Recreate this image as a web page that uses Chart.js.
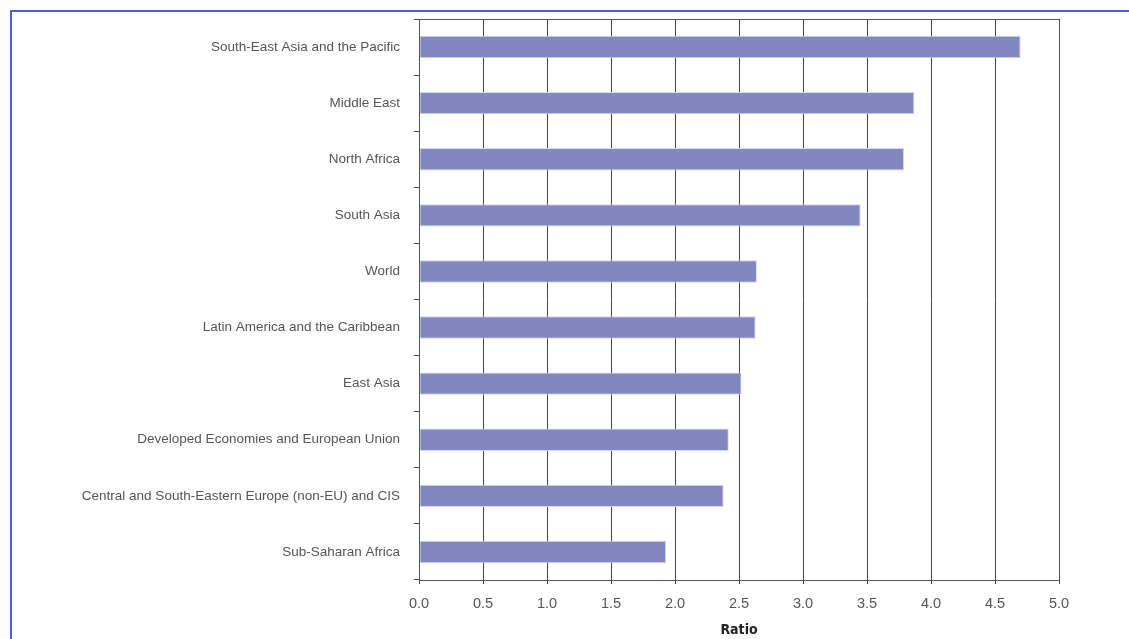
<!DOCTYPE html>
<html>
<head>
<meta charset="utf-8">
<script src="https://cdn.jsdelivr.net/npm/chart.js@4/dist/chart.umd.min.js"></script>
<style>
  html, body { margin: 0; padding: 0; background: #fff; }
  #marco {
    position: absolute; left: 10px; top: 10px; width: 1119px; height: 629px;
    border-top: 2px solid #4a63c4; border-left: 2px solid #4a63c4;
  }
  #lienzo { position: absolute; left: 0; top: 0; width: 1129px; height: 639px; }
</style>
</head>
<body>
<div id="marco"></div>
<div id="lienzo"><canvas id="grafico"></canvas></div>
<script>
// datos
const regiones = [
  "South-East Asia and the Pacific",
  "Middle East",
  "North Africa",
  "South Asia",
  "World",
  "Latin America and the Caribbean",
  "East Asia",
  "Developed Economies and European Union",
  "Central and South-Eastern Europe (non-EU) and CIS",
  "Sub-Saharan Africa"
];
const ratios = [4.70, 3.87, 3.79, 3.45, 2.64, 2.63, 2.52, 2.42, 2.38, 1.93];
const ejeMin = 0;
const ejeMax = 5;
const paso = 0.5;
const tituloEje = "Ratio";

// marco del area de datos (arriba y derecha)
const marcoPlot = {
  id: 'marcoPlot',
  afterDatasetsDraw(chart) {
    const a = chart.chartArea;
    const ctx = chart.ctx;
    ctx.save();
    ctx.strokeStyle = '#555';
    ctx.lineWidth = 1;
    ctx.strokeRect(a.left + 0.5, a.top + 0.5, a.right - a.left, a.bottom - a.top);
    ctx.restore();
  }
};

const ctx = document.getElementById('grafico').getContext('2d');
new Chart(ctx, {
  type: 'bar',
  data: {
    labels: regiones,
    datasets: [{
      data: ratios,
      backgroundColor: '#8387bf',
      borderColor: '#d6d8ee',
      borderWidth: 1,
      borderSkipped: false,
      barPercentage: 0.4,
      categoryPercentage: 1
    }]
  },
  options: {
    indexAxis: 'y',
    responsive: true,
    maintainAspectRatio: false,
    animation: false,
    layout: { padding: { top: 19, right: 70, left: 0, bottom: 0 } },
    plugins: { legend: { display: false }, tooltip: { enabled: false } },
    scales: {
      x: {
        min: ejeMin,
        max: ejeMax,
        ticks: {
          stepSize: paso,
          color: '#555',
          padding: 11,
          font: { family: 'Liberation Sans', size: 14.5 },
          callback: v => v.toFixed(1)
        },
        grid: { color: '#444', lineWidth: 1, tickLength: 4 },
        border: { color: '#555' },
        title: {
          display: true,
          text: tituloEje,
          color: '#222',
          padding: { top: 0, bottom: 0 },
          font: { family: 'DejaVu Sans Condensed', size: 14, weight: 'bold' }
        },
        afterFit: s => { s.height = 59; }
      },
      y: {
        grid: {
          offset: true,
          drawOnChartArea: false,
          drawTicks: true,
          tickLength: 5,
          color: '#444'
        },
        border: { color: '#555' },
        ticks: {
          color: '#555',
          padding: 14,
          font: { family: 'Liberation Sans', size: 13.5 }
        },
        afterFit: s => { s.width = 419; s.paddingTop = 0; s.paddingBottom = 0; }
      }
    }
  },
  plugins: [marcoPlot]
});
</script>
</body>
</html>
